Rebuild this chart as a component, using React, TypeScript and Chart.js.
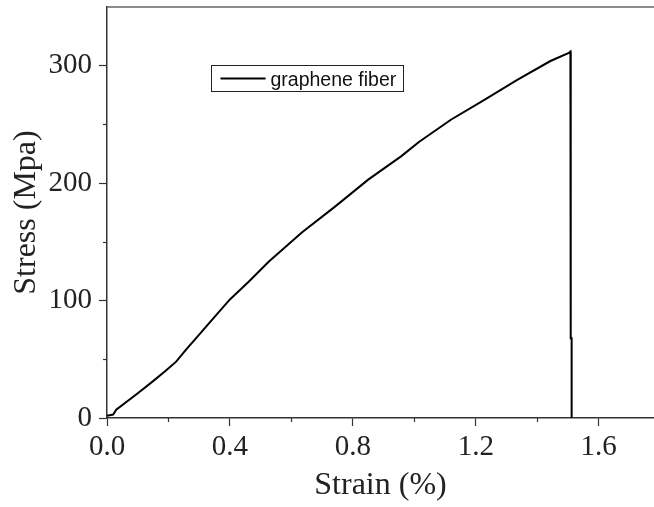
import React, { useEffect, useRef } from "react";
import { Chart, registerables } from "chart.js";

Chart.register(...registerables);

const seriesLabel = "graphene fiber";
const strain = [0, 0.02, 0.03, 0.095, 0.148, 0.19, 0.225, 0.26, 0.3, 0.353, 0.4, 0.461, 0.526, 0.634, 0.742, 0.85, 0.958, 1.015, 1.119, 1.228, 1.335, 1.443, 1.503, 1.508, 1.509, 1.512, 1.512];
const stress = [2, 3, 7, 20, 31, 40, 48, 59, 71, 87, 101, 116, 133, 158, 180, 203, 223, 235, 254, 271, 288, 304, 311, 312, 68, 68, 0];
const xMajorTicks = [0, 0.4, 0.8, 1.2, 1.6];
const xMinorTicks = [0.2, 0.6, 1.0, 1.4];
const yMajorTicks = [0, 100, 200, 300];
const yMinorTicks = [50, 150, 250];
const xTitle = "Strain (%)";
const yTitle = "Stress (Mpa)";

const AXIS_COLOR = "#333";

const extrasPlugin = {
  id: "extras",
  afterDraw(chart: any) {
    const { ctx, chartArea, scales } = chart;
    ctx.save();
    // top border
    ctx.strokeStyle = "#666";
    ctx.lineWidth = 1.5;
    ctx.beginPath();
    ctx.moveTo(chartArea.left, chartArea.top);
    ctx.lineTo(chartArea.right, chartArea.top);
    ctx.stroke();
    // minor ticks
    ctx.strokeStyle = AXIS_COLOR;
    ctx.lineWidth = 1.2;
    for (const v of xMinorTicks) {
      const px = Math.round(scales.x.getPixelForValue(v)) + 0.5;
      ctx.beginPath();
      ctx.moveTo(px, chartArea.bottom);
      ctx.lineTo(px, chartArea.bottom + 4);
      ctx.stroke();
    }
    for (const v of yMinorTicks) {
      const py = Math.round(scales.y.getPixelForValue(v)) + 0.5;
      ctx.beginPath();
      ctx.moveTo(chartArea.left, py);
      ctx.lineTo(chartArea.left - 4, py);
      ctx.stroke();
    }
    // legend box
    const bx = chartArea.left + 104.5;
    const by = chartArea.top + 58.5;
    const bw = 192;
    const bh = 26;
    ctx.strokeStyle = "#222";
    ctx.lineWidth = 1;
    ctx.strokeRect(bx, by, bw, bh);
    ctx.strokeStyle = "#000";
    ctx.lineWidth = 2;
    ctx.beginPath();
    ctx.moveTo(bx + 9, by + bh / 2);
    ctx.lineTo(bx + 54, by + bh / 2);
    ctx.stroke();
    ctx.fillStyle = "#111";
    ctx.font = '19.5px "Liberation Sans", Arial, sans-serif';
    ctx.textBaseline = "alphabetic";
    ctx.textAlign = "left";
    ctx.fillText(chart.data.datasets[0].label, bx + 59, by + 20);
    ctx.restore();
  },
};

export default function App() {
  const canvasRef = useRef<HTMLCanvasElement | null>(null);

  useEffect(() => {
    const canvas = canvasRef.current;
    if (!canvas) return;
    const points = strain.map((x, i) => ({ x, y: stress[i] }));
    const chart = new Chart(canvas, {
      type: "line",
      data: {
        datasets: [
          {
            label: seriesLabel,
            data: points,
            borderColor: "#000",
            borderWidth: 2,
            pointRadius: 0,
            tension: 0,
            fill: false,
          },
        ],
      },
      options: {
        animation: false,
        responsive: true,
        maintainAspectRatio: false,
        layout: { padding: { top: 7, right: 0, left: 0, bottom: 0 } },
        plugins: {
          legend: { display: false },
          tooltip: { enabled: false },
        },
        scales: {
          x: {
            type: "linear",
            min: 0,
            max: 1.78,
            afterFit: (s: any) => {
              s.height = 89;
              s.paddingLeft = 0;
              s.paddingRight = 0;
            },
            afterBuildTicks: (s: any) => {
              s.ticks = xMajorTicks.map((v) => ({ value: v }));
            },
            ticks: {
              includeBounds: false,
              color: "#222",
              font: { family: '"Liberation Serif", "Times New Roman", serif', size: 29 },
              padding: 4,
              maxRotation: 0,
              callback: (v: any) => Number(v).toFixed(1),
            },
            grid: {
              drawOnChartArea: false,
              drawTicks: true,
              tickLength: 8,
              tickColor: AXIS_COLOR,
              tickWidth: 1.2,
            },
            border: { display: true, color: AXIS_COLOR, width: 1.5 },
            title: {
              display: true,
              text: xTitle,
              color: "#222",
              font: { family: '"Liberation Serif", "Times New Roman", serif', size: 32 },
              padding: { top: 0, bottom: 2 },
            },
          },
          y: {
            type: "linear",
            min: 0,
            max: 350,
            afterFit: (s: any) => {
              s.width = 107;
              s.paddingTop = 0;
              s.paddingBottom = 0;
            },
            afterBuildTicks: (s: any) => {
              s.ticks = yMajorTicks.map((v) => ({ value: v }));
            },
            ticks: {
              includeBounds: false,
              color: "#222",
              font: { family: '"Liberation Serif", "Times New Roman", serif', size: 29 },
              padding: 7,
              callback: (v: any) => String(v),
            },
            grid: {
              drawOnChartArea: false,
              drawTicks: true,
              tickLength: 8,
              tickColor: AXIS_COLOR,
              tickWidth: 1.2,
            },
            border: { display: true, color: AXIS_COLOR, width: 1.5 },
            title: {
              display: true,
              text: yTitle,
              color: "#222",
              font: { family: '"Liberation Serif", "Times New Roman", serif', size: 32 },
              padding: { top: 7, bottom: 0 },
            },
          },
        },
      },
      plugins: [extrasPlugin],
    });
    return () => chart.destroy();
  }, []);

  return (
    <div style={{ position: "absolute", left: 0, top: 0, width: 654, height: 507, background: "#fff" }}>
      <canvas ref={canvasRef} />
    </div>
  );
}
